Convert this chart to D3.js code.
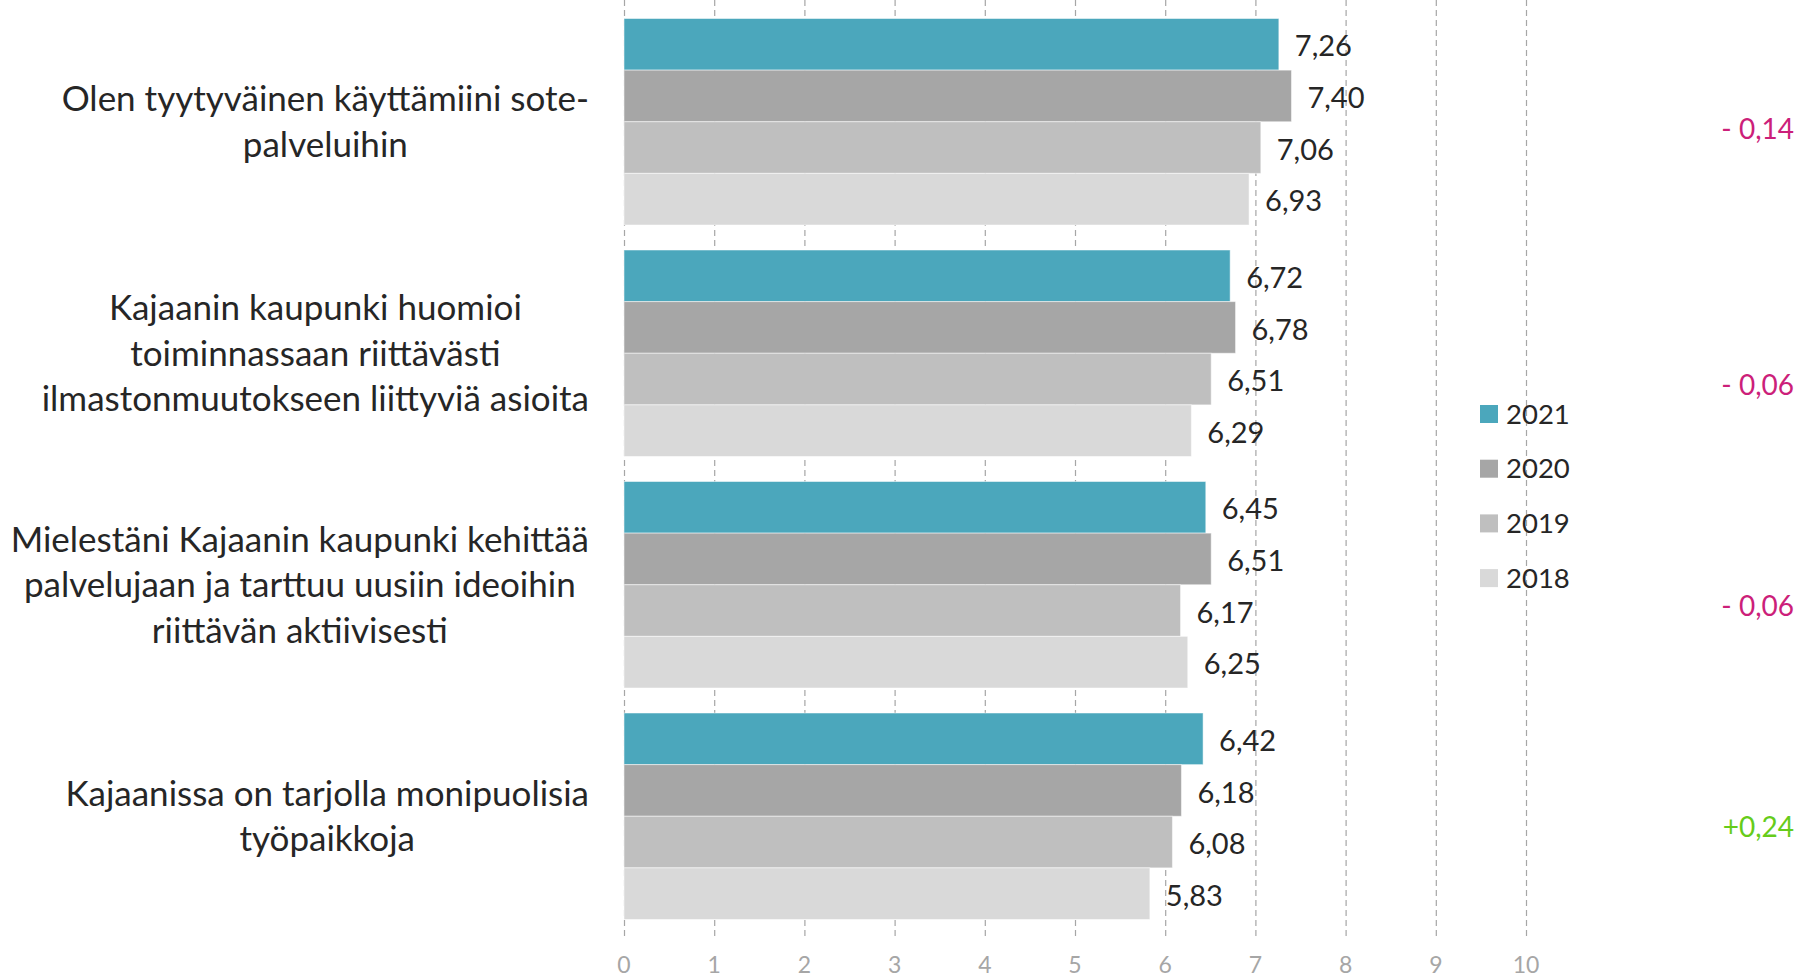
<!DOCTYPE html>
<html>
<head>
<meta charset="utf-8">
<script src="https://cdn.jsdelivr.net/npm/d3@7"></script>
<style>
  body { margin: 0; background: #fff; }
  svg { display: block; font-family: Lato, "Open Sans", sans-serif; }
</style>
</head>
<body>
<svg id="chart"></svg>
<script>
let width = 1806;
let height = 980;

// data
let categories = [
  ["Olen tyytyväinen käyttämiini sote-", "palveluihin"],
  ["Kajaanin kaupunki huomioi", "toiminnassaan riittävästi", "ilmastonmuutokseen liittyviä asioita"],
  ["Mielestäni Kajaanin kaupunki kehittää", "palvelujaan ja tarttuu uusiin ideoihin", "riittävän aktiivisesti"],
  ["Kajaanissa on tarjolla monipuolisia", "työpaikkoja"],
];
let years = ["2021", "2020", "2019", "2018"];
let values2021 = [7.26, 6.72, 6.45, 6.42];
let values2020 = [7.40, 6.78, 6.51, 6.18];
let values2019 = [7.06, 6.51, 6.17, 6.08];
let values2018 = [6.93, 6.29, 6.25, 5.83];
let deltas = ["- 0,14", "- 0,06", "- 0,06", "+0,24"];
let xTicks = [0, 1, 2, 3, 4, 5, 6, 7, 8, 9, 10];

let series = [values2021, values2020, values2019, values2018];
let colors = ["#4BA7BC", "#A6A6A6", "#BFBFBF", "#D9D9D9"];
// vertical nudge of each delta label from its group's centre
let deltaOffsets = [7, 32, 21, 11];

let svg = d3.select("#chart").attr("width", width).attr("height", height);

let xScale = d3.scaleLinear().domain([0, 10]).range([624, 1526]);
let yScale = d3
  .scaleBand()
  .domain(d3.range(categories.length))
  .range([6, 932])
  .paddingInner(0.108)
  .paddingOuter(0.054);
let ySub = d3.scaleBand().domain(years).range([0, yScale.bandwidth()]);

let fmt = (v) => d3.format(".2f")(v).replace(".", ",");

// dashed vertical grid lines
svg
  .append("g")
  .selectAll("line")
  .data(xTicks)
  .enter()
  .append("line")
  .attr("x1", (d) => xScale(d) + 0.5)
  .attr("x2", (d) => xScale(d) + 0.5)
  .attr("y1", 0)
  .attr("y2", 940)
  .attr("stroke", "#A6A6A6")
  .attr("stroke-width", 1.2)
  .attr("stroke-dasharray", "6,4");

// bars
let rows = [];
categories.forEach((c, i) => {
  years.forEach((y, j) => {
    rows.push({ cat: i, year: y, value: series[j][i], color: colors[j] });
  });
});

let groups = svg.append("g");
groups
  .selectAll("rect")
  .data(rows)
  .enter()
  .append("rect")
  .attr("x", xScale(0))
  .attr("y", (d) => yScale(d.cat) + ySub(d.year))
  .attr("width", (d) => xScale(d.value) - xScale(0))
  .attr("height", ySub.bandwidth())
  .attr("fill", (d) => d.color)
  .attr("stroke", "#fff")
  .attr("stroke-opacity", 0.5)
  .attr("stroke-width", 1);

groups
  .selectAll("text")
  .data(rows)
  .enter()
  .append("text")
  .attr("x", (d) => xScale(d.value) + 16)
  .attr("y", (d) => yScale(d.cat) + ySub(d.year) + ySub.bandwidth() / 2 + 2)
  .attr("dy", "0.35em")
  .attr("font-size", 29)
  .attr("fill", "#262626")
  .text((d) => fmt(d.value));

// x axis labels
svg
  .append("g")
  .selectAll("text")
  .data(xTicks)
  .enter()
  .append("text")
  .attr("x", (d) => xScale(d))
  .attr("y", 965)
  .attr("dy", "0.35em")
  .attr("text-anchor", "middle")
  .attr("font-size", 23)
  .attr("fill", "#A6A6A6")
  .text((d) => d);

// category labels: lines centred, block right-aligned
let labelRight = 589;
let lineHeight = 45.5;
categories.forEach((lines, i) => {
  let g = svg.append("g");
  let cy = yScale(i) + yScale.bandwidth() / 2;
  let texts = g
    .selectAll("text")
    .data(lines)
    .enter()
    .append("text")
    .attr("y", (d, k) => cy + (k - (lines.length - 1) / 2) * lineHeight)
    .attr("dy", "0.35em")
    .attr("text-anchor", "middle")
    .attr("font-size", 35)
    .attr("fill", "#262626")
    .text((d) => d);
  let maxW = d3.max(texts.nodes(), (n) => n.getComputedTextLength());
  texts.attr("x", labelRight - maxW / 2);
});

// change labels on the right
svg
  .append("g")
  .selectAll("text")
  .data(deltas)
  .enter()
  .append("text")
  .attr("x", 1794)
  .attr("y", (d, i) => yScale(i) + yScale.bandwidth() / 2 + deltaOffsets[i])
  .attr("dy", "0.35em")
  .attr("text-anchor", "end")
  .attr("font-size", 28)
  .attr("fill", (d) => (d.startsWith("+") ? "#66CC1A" : "#CC1F7A"))
  .text((d) => d);

// legend
let legend = svg
  .append("g")
  .selectAll("g")
  .data(years)
  .enter()
  .append("g")
  .attr("transform", (d, i) => "translate(1480," + (405 + i * 54.7) + ")");

legend
  .append("rect")
  .attr("width", 18)
  .attr("height", 18)
  .attr("fill", (d, i) => colors[i]);

legend
  .append("text")
  .attr("x", 26)
  .attr("y", 9)
  .attr("dy", "0.35em")
  .attr("font-size", 27.5)
  .attr("fill", "#262626")
  .text((d) => d);
</script>
</body>
</html>
